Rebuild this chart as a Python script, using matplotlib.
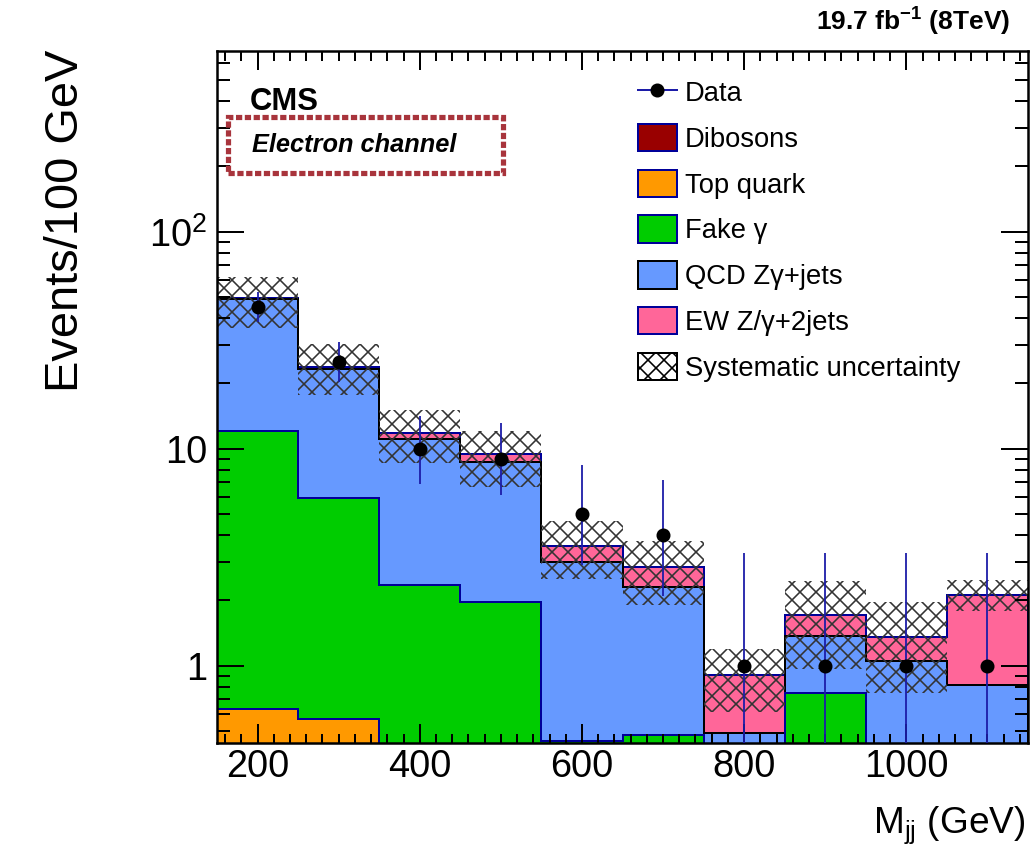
import numpy as np
import matplotlib
matplotlib.use('Agg')
import matplotlib.pyplot as plt
from matplotlib.patches import Patch, Rectangle
from matplotlib.lines import Line2D
from matplotlib.ticker import MultipleLocator, LogLocator, NullFormatter

plt.rcParams['font.family'] = ['Liberation Sans', 'DejaVu Sans']
plt.rcParams['mathtext.fontset'] = 'custom'
plt.rcParams['mathtext.rm'] = 'Liberation Sans'
plt.rcParams['mathtext.it'] = 'Liberation Sans:italic'
plt.rcParams['mathtext.bf'] = 'Liberation Sans:bold'
plt.rcParams['hatch.linewidth'] = 0.8

# M_jj binning (GeV)
bin_edges = [150, 250, 350, 450, 550, 650, 750, 850, 950, 1050, 1150]
bin_centers = [200, 300, 400, 500, 600, 700, 800, 900, 1000, 1100]

# backgrounds, stacked bottom -> top
dibosons = [0.08, 0.06, 0.05, 0.04, 0.03, 0.02, 0.01, 0.01, 0.01, 0.01]
top_quark = [0.55, 0.51, 0.20, 0.10, 0.05, 0.05, 0.02, 0.02, 0.02, 0.02]
fake_gamma = [11.47, 5.33, 2.10, 1.83, 0.37, 0.41, 0.0, 0.72, 0.0, 0.0]
qcd_zg = [36.9, 17.5, 8.75, 6.74, 2.55, 1.82, 0.46, 0.625, 1.02, 0.785]
ew_zg = [0.4, 0.5, 0.7, 0.74, 0.55, 0.54, 0.42, 0.345, 0.30, 1.30]

# systematic band (lower / upper edge)
syst_low = [36.0, 17.7, 8.6, 6.63, 2.52, 1.90, 0.61, 0.97, 0.75, 1.78]
syst_high = [62.0, 30.4, 15.0, 12.1, 4.66, 3.77, 1.19, 2.46, 1.97, 2.48]

# data with error bar ends
data = [45, 25, 10, 9, 5, 4, 1, 1, 1, 1]
data_low = [38.2, 20.2, 6.9, 6.1, 2.9, 2.1, 0.17, 0.17, 0.17, 0.17]
data_high = [52.5, 30.9, 14.2, 13.1, 8.4, 7.2, 3.3, 3.3, 3.3, 3.3]

navy = '#000099'
layers = [
    (dibosons, '#990000', navy, 'Dibosons'),
    (top_quark, '#ff9900', navy, 'Top quark'),
    (fake_gamma, '#00cc00', navy, 'Fake γ'),
    (qcd_zg, '#6699ff', 'black', 'QCD Zγ+jets'),
    (ew_zg, '#ff6699', navy, 'EW Z/γ+2jets'),
]

fig = plt.figure(figsize=(1031 / 144, 852 / 144), dpi=144)
ax = fig.add_axes([217 / 1031, 109 / 852, 811 / 1031, 692 / 852])

# draw the stack like ROOT: biggest cumulative first
cum = np.cumsum([np.array(l[0]) for l in layers], axis=0)
for i in reversed(range(len(layers))):
    ax.stairs(cum[i], bin_edges, baseline=1e-3, fill=True,
              facecolor=layers[i][1], edgecolor=layers[i][2], linewidth=1.0)

# systematic uncertainty
ax.bar(bin_centers, np.array(syst_high) - np.array(syst_low), bottom=syst_low,
       width=100, fill=False, hatch='xxx', edgecolor='#333333', linewidth=0)

# data points
d = np.array(data, dtype=float)
ax.errorbar(bin_centers, d, yerr=[d - np.array(data_low), np.array(data_high) - d],
            fmt='o', ms=6, mfc='black', mec='black', ecolor='#1c1ca8',
            elinewidth=0.9, capsize=0, zorder=5)

ax.set_yscale('log')
ax.set_xlim(150, 1150)
ax.set_ylim(0.44, 680)

ax.xaxis.set_major_locator(MultipleLocator(200))
ax.xaxis.set_minor_locator(MultipleLocator(20))
ax.set_yticks([1, 10, 100], labels=['1', '10', r'$10^{2}$'])
ax.yaxis.set_minor_locator(LogLocator(base=10, subs=[2, 3, 4, 5, 6, 7, 8, 9]))
ax.yaxis.set_minor_formatter(NullFormatter())

ax.tick_params(which='both', direction='in', top=True, right=True, width=1.0)
ax.tick_params(axis='x', which='major', length=9.5, pad=3, labelsize=19)
ax.tick_params(axis='x', which='minor', length=4.75)
ax.tick_params(axis='y', which='major', length=13.5, pad=5, labelsize=19)
ax.tick_params(axis='y', which='minor', length=6.5)
for s in ax.spines.values():
    s.set_linewidth(1.25)

# legend
handles = [Line2D([0], [0], color='#1c1ca8', lw=1, marker='o', ms=6,
                  mfc='black', mec='black')]
labels = ['Data']
for vals, fc, ec, name in layers:
    handles.append(Patch(facecolor=fc, edgecolor=ec, linewidth=1))
    labels.append(name)
handles.append(Patch(facecolor='white', edgecolor='black', hatch='xxx', linewidth=1))
labels.append('Systematic uncertainty')
ax.legend(handles, labels, loc='upper left', bbox_to_anchor=(638 / 1031, 1 - 78 / 852),
          bbox_transform=fig.transFigure, frameon=False, fontsize=13.7,
          handlelength=1.42, handleheight=1.17, handletextpad=0.3,
          labelspacing=0.61, borderpad=0, borderaxespad=0)

# labels and annotations
fig.text(66 / 1031, 1 - 50 / 852, 'Events/100 GeV', rotation=90, ha='center',
         va='top', size=23.5)
fig.text(1025 / 1031, 1 - 833 / 852, r'M$_{\rm jj}$ (GeV)', ha='right',
         va='baseline', size=18.5)
fig.text(1010 / 1031, 1 - 31 / 852, r'19.7 fb$^{\mathbf{-1}}$ (8TeV)', ha='right',
         va='baseline', size=13.2, weight='bold')
fig.text(250 / 1031, 1 - 110 / 852, 'CMS', size=15.5, weight='bold', va='baseline')
fig.text(252 / 1031, 1 - 152 / 852, 'Electron channel', size=12.7, weight='bold',
         style='italic', va='baseline')
fig.add_artist(Rectangle((228 / 1031, 1 - 173 / 852), 275 / 1031, 56 / 852,
                         transform=fig.transFigure, fill=False, edgecolor='#a8343c',
                         linewidth=2.6, linestyle=(0, (1.2, 0.5))))

fig.savefig('out.png', dpi=144)
